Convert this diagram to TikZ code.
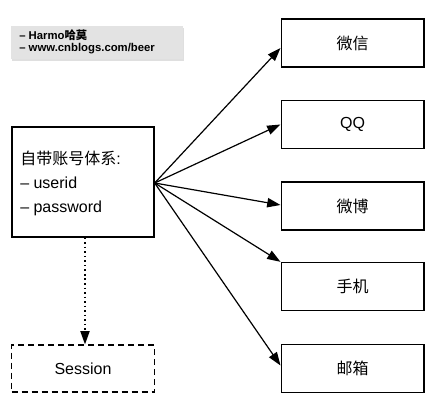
\documentclass[tikz,border=0pt]{standalone}
\usepackage{fontspec}
\setmainfont{Liberation Sans}
\newfontfamily\cjk{Noto Sans CJK SC}
\usetikzlibrary{arrows.meta,calc,shadows}
\begin{document}
\begin{tikzpicture}[x=0.75pt,y=-0.75pt,
  box/.style={draw=black, line width=1pt, minimum width=107pt, minimum height=36pt, inner sep=0pt, font=\fontsize{12}{14}\selectfont},
  arr/.style={line width=0.9pt, -{Triangle[length=10pt,width=7pt]}},
  hdr/.style={font=\bfseries\fontsize{8.5}{10}\selectfont, anchor=west, inner sep=0pt}]
\useasboundingbox (0,0) rectangle (441,409);
% header
\node[fill=black!11, draw=none, minimum width=129pt, minimum height=24.5pt, inner sep=0pt,
  drop shadow={opacity=0.25, shadow xshift=0.4pt, shadow yshift=-1.5pt}] (hd) at (97,42.5) {};
\node[hdr] (h1) at (19,35) {– Harmo{\cjk 哈莫}};
\node[hdr] (h2) at (19,49) {– www.cnblogs.com/beer};
% left box
\node[draw=black, line width=1pt, minimum width=106.5pt, minimum height=82.5pt, inner sep=0pt] (lb) at (83,182) {};
\node[anchor=west, align=left, inner sep=0pt, font=\fontsize{12}{18}\selectfont] (lt) at (20,183)
  {{\cjk 自带账号体系}:\\– userid\\– password};
% session
\node[box, dash pattern=on 4.5pt off 3pt, minimum height=35.25pt] (ss) at (83,368.5) {Session};
% right boxes
\node[box] (wx) at (352.5,43) {\cjk 微信};
\node[box] (qq) at (352.5,124.5) {QQ};
\node[box] (wb) at (352.5,206) {\cjk 微博};
\node[box] (sj) at (352.5,286.5) {\cjk 手机};
\node[box] (yx) at (352.5,368.5) {\cjk 邮箱};
% arrows
\coordinate (src) at ($(lb.east)+(0,1)$);
\draw[arr] (src) -- ($(wx.west)+(0,5)$);
\draw[arr] (src) -- (qq.west);
\draw[arr] (src) -- ($(wb.west)+(0,-1)$);
\draw[arr] (src) -- (sj.north west);
\draw[arr] (src) -- ($(yx.west)+(0,-3)$);
\draw[line width=0.9pt, dash pattern=on 1.2pt off 2.2pt, -{Triangle[length=10pt,width=7pt]}] ($(lb.south)+(2,0)$) -- ($(ss.north)+(2,0)$);
\end{tikzpicture}
\end{document}
